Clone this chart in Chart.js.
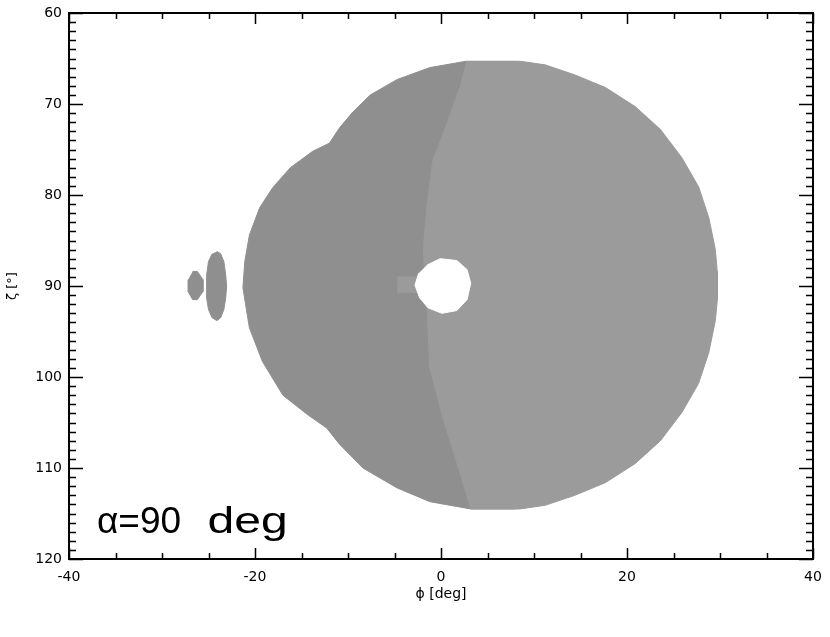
<!DOCTYPE html>
<html>
<head>
<meta charset="utf-8">
<script src="https://cdn.jsdelivr.net/npm/chart.js@4.4.1/dist/chart.umd.min.js"></script>
<style>
  html, body { margin: 0; padding: 0; background: #ffffff; }
  #wrap { width: 830px; height: 637px; }
</style>
</head>
<body>
<div id="wrap"><canvas id="mainChart"></canvas></div>
<script>
// Outlines, phi [deg] / zeta [deg]
// darker left part of the visible region
const darkPhi  = [2.7, -1.2, -4.7, -7.6, -9.5, -10.9, -12.0, -13.8, -16.2, -18.1, -19.5, -20.6, -21.1, -21.3, -20.6, -19.2, -17.0, -14.4, -12.3, -10.9, -8.4, -4.7, -1.2, 3.2, 8.0, 8.0];
const darkZeta = [65.3, 66.0, 67.3, 69.0, 70.9, 72.6, 74.3, 75.2, 77.0, 79.2, 81.4, 84.4, 87.3, 90.2, 94.6, 98.3, 102.0, 104.1, 105.6, 107.4, 110.0, 112.2, 113.7, 114.5, 114.5, 65.3];

// lighter right part (outer edge, then the dividing curve back up)
const lightPhi  = [2.7, 8.5, 11.2, 14.4, 17.7, 20.9, 23.6, 25.9, 27.7, 28.8, 29.5, 29.7, 29.75, 29.7, 29.5, 28.8, 27.7, 25.9, 23.6, 20.9, 17.7, 14.4, 11.2, 8.5, 3.2,
                   2.0, 0.2, -1.2, -1.5, -1.7, -1.9, -1.5, -0.9, 0.7, 2.0];
const lightZeta = [65.3, 65.3, 65.7, 66.8, 68.2, 70.3, 72.8, 75.9, 79.1, 82.5, 86.0, 88.4, 90.0, 91.4, 93.8, 97.3, 100.7, 103.9, 107.0, 109.5, 111.6, 113.0, 114.1, 114.5, 114.5,
                   110.4, 104.5, 99.0, 92.8, 90.0, 85.8, 81.1, 76.3, 72.0, 68.2];

// small light strip left of the hole
const tailPhi  = [-4.7, -2.6, -2.6, -4.7];
const tailZeta = [89.0, 89.0, 90.7, 90.7];

// empty hole around the centre
const holePhi  = [-1.5, -0.1, 1.7, 2.8, 3.2, 2.8, 1.7, 0.1, -1.4, -2.3, -2.8, -2.4];
const holeZeta = [87.7, 87.0, 87.2, 88.2, 89.7, 91.5, 92.7, 93.0, 92.4, 91.3, 89.9, 88.6];

// two small islands on the left
const islandAPhi  = [-26.7, -26.2, -25.6, -25.6, -26.2, -26.7, -27.2, -27.2];
const islandAZeta = [88.4, 88.4, 89.3, 90.6, 91.5, 91.5, 90.6, 89.3];
const islandBPhi  = [-24.1, -23.7, -23.35, -23.15, -23.05, -23.15, -23.35, -23.7, -24.1, -24.6, -25.0, -25.2, -25.2, -25.2, -25.0, -24.6];
const islandBZeta = [86.2, 86.45, 87.3, 88.8, 90.0, 91.3, 92.6, 93.5, 93.8, 93.5, 92.6, 91.3, 90.0, 88.8, 87.3, 86.45];

// axis ticks
const xTickLabels = [-40, -20, 0, 20, 40];
const yTickLabels = [60, 70, 80, 90, 100, 110, 120];
const xMinorStep = 5;
const yMinorStep = 1;

// annotation, drawn in two pieces (the unit is set wide in the original)
const noteMain = '\u03B1=90';
const noteUnit = 'deg';
const notePhi = -37.0;
const noteUnitPhi = -25.1;
const noteZeta = 117.1;

const DARK = '#8f8f8f';
const LIGHT = '#9b9b9b';

function toPoints(xs, ys) {
    return xs.map((x, i) => ({ x: x, y: ys[i] }));
}

function shape(label, xs, ys, color, order) {
    return {
        label: label,
        data: toPoints(xs, ys),
        showLine: true,
        fill: 'shape',
        backgroundColor: color,
        borderColor: color,
        borderWidth: 1,
        pointRadius: 0,
        tension: 0,
        order: order
    };
}

// Frame, inward major/minor ticks and the alpha note
const framePlugin = {
    id: 'frame',
    afterDraw(chart) {
        const ctx = chart.ctx;
        const a = chart.chartArea;
        const xs = chart.scales.x;
        const ys = chart.scales.y;
        ctx.save();
        ctx.strokeStyle = '#000000';
        ctx.lineWidth = 1.5;
        ctx.beginPath();
        for (let v = xs.min; v <= xs.max + 1e-9; v += xMinorStep) {
            const px = Math.round(xs.getPixelForValue(v)) + 0.5;
            const len = xTickLabels.includes(v) ? 11 : 6;
            ctx.moveTo(px, a.bottom); ctx.lineTo(px, a.bottom - len);
            ctx.moveTo(px, a.top); ctx.lineTo(px, a.top + len);
        }
        for (let v = ys.min; v <= ys.max + 1e-9; v += yMinorStep) {
            const py = Math.round(ys.getPixelForValue(v)) + 0.5;
            const len = yTickLabels.includes(v) ? 14 : 7;
            ctx.moveTo(a.left, py); ctx.lineTo(a.left + len, py);
            ctx.moveTo(a.right, py); ctx.lineTo(a.right - len, py);
        }
        ctx.stroke();
        ctx.lineWidth = 2;
        ctx.strokeRect(a.left, a.top, a.right - a.left, a.bottom - a.top);

        ctx.fillStyle = '#000000';
        ctx.font = '37px "Liberation Sans", Arial, sans-serif';
        ctx.textAlign = 'left';
        ctx.textBaseline = 'alphabetic';
        const ny = ys.getPixelForValue(noteZeta);
        ctx.fillText(noteMain, xs.getPixelForValue(notePhi), ny);
        const ux = xs.getPixelForValue(noteUnitPhi);
        ctx.translate(ux, ny);
        ctx.scale(1.3, 1);
        ctx.fillText(noteUnit, 0, 0);
        ctx.restore();
    }
};

document.addEventListener('DOMContentLoaded', function() {
    const ctx = document.getElementById('mainChart').getContext('2d');
    const tickFont = { family: '"DejaVu Sans", sans-serif', size: 14 };

    window.mainChart = new Chart(ctx, {
        type: 'scatter',
        data: {
            datasets: [
                shape('dark', darkPhi, darkZeta, DARK, 5),
                shape('light', lightPhi, lightZeta, LIGHT, 4),
                shape('tail', tailPhi, tailZeta, LIGHT, 3),
                shape('hole', holePhi, holeZeta, '#ffffff', 2),
                shape('islandA', islandAPhi, islandAZeta, DARK, 1),
                shape('islandB', islandBPhi, islandBZeta, DARK, 1)
            ]
        },
        options: {
            responsive: true,
            maintainAspectRatio: false,
            animation: false,
            layout: { padding: { top: 13, right: 17, left: 0, bottom: 0 } },
            plugins: {
                legend: { display: false },
                tooltip: { enabled: false }
            },
            scales: {
                x: {
                    type: 'linear',
                    min: -40,
                    max: 40,
                    grid: { display: false, drawTicks: false },
                    border: { display: false },
                    afterBuildTicks: s => { s.ticks = xTickLabels.map(v => ({ value: v })); },
                    afterFit: s => { s.height = 78; s.paddingLeft = 0; s.paddingRight = 0; },
                    ticks: { color: '#000000', font: tickFont, padding: 10, maxRotation: 0 },
                    title: {
                        display: true,
                        text: '\u03D5 [deg]',
                        color: '#000000',
                        font: tickFont,
                        padding: { top: 0, bottom: 34 }
                    }
                },
                y: {
                    type: 'linear',
                    min: 60,
                    max: 120,
                    reverse: true,
                    grid: { display: false, drawTicks: false },
                    border: { display: false },
                    afterBuildTicks: s => { s.ticks = yTickLabels.map(v => ({ value: v })); },
                    afterFit: s => { s.width = 69; s.paddingTop = 0; s.paddingBottom = 0; },
                    ticks: { color: '#000000', font: tickFont, padding: 7 },
                    title: {
                        display: true,
                        text: '\u03B6 [\u00B0]',
                        color: '#000000',
                        font: { family: '"DejaVu Sans", sans-serif', size: 13 },
                        padding: { top: 5, bottom: 0 }
                    }
                }
            }
        },
        plugins: [framePlugin]
    });
});
</script>
</body>
</html>
